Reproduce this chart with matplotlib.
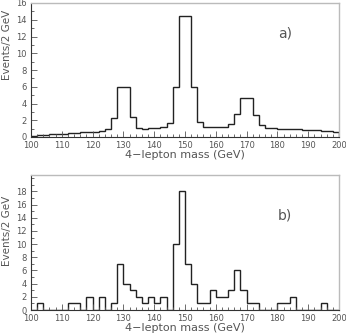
import numpy as np
import matplotlib
matplotlib.use('Agg')
import matplotlib.pyplot as plt
from matplotlib.ticker import MultipleLocator

# 2 GeV bins from 100 to 200 GeV
edges = np.arange(100, 202, 2)

# a) expected distribution
events_a = [0.1, 0.2, 0.25, 0.3, 0.35, 0.4, 0.45, 0.5, 0.55, 0.6,
            0.65, 0.75, 0.95, 2.3, 6.0, 6.0, 2.4, 1.1, 1.0, 1.05,
            1.1, 1.15, 1.7, 6.0, 14.4, 14.4, 6.0, 1.8, 1.2, 1.15,
            1.15, 1.2, 1.5, 2.7, 4.7, 4.7, 2.6, 1.4, 1.1, 1.05,
            1.0, 0.98, 0.95, 0.9, 0.87, 0.83, 0.8, 0.75, 0.7, 0.65]

# b) simulated events
events_b = [0, 1, 0, 0, 0, 0, 1, 1, 0, 2,
            0, 2, 0, 1, 7, 4, 3, 2, 1, 2,
            1, 2, 0, 10, 18, 7, 4, 1, 1, 3,
            2, 2, 3, 6, 3, 1, 1, 0, 0, 0,
            1, 1, 2, 0, 0, 0, 0, 1, 0, 0]

txt = '#555555'
W, H = 346, 336

fig = plt.figure(figsize=(W / 100, H / 100), dpi=100)

def setup(ax, ymax, yticks, tag, tag_xy, label_y):
    ax.set_xlim(100, 200)
    ax.set_ylim(0, ymax)
    ax.set_yticks(yticks)
    ax.xaxis.set_major_locator(MultipleLocator(10))
    ax.xaxis.set_minor_locator(MultipleLocator(2))
    ax.yaxis.set_minor_locator(MultipleLocator(1))
    ax.tick_params(which='both', direction='in', colors=txt, labelsize=6,
                   top=False, right=False, width=0.6)
    ax.tick_params(which='major', length=4, pad=3)
    ax.tick_params(which='minor', length=2.5)
    for s in ['left', 'bottom']:
        ax.spines[s].set_color('#333333')
        ax.spines[s].set_linewidth(0.8)
    for s in ['top', 'right']:
        ax.spines[s].set_color('#bbbbbb')
        ax.spines[s].set_linewidth(1.0)
    ax.set_xlabel('4\u2212lepton mass (GeV)', fontsize=8, color=txt, labelpad=0)
    ax.set_ylabel('Events/2 GeV', fontsize=7.5, color=txt)
    ax.yaxis.set_label_coords(-0.062, label_y)
    ax.text(tag_xy[0], tag_xy[1], tag, fontsize=10, color=txt,
            ha='center', va='center')

ax1 = fig.add_axes([31 / W, 1 - 137 / H, 308 / W, 134 / H])
ax1.stairs(events_a, edges, baseline=0, color='#222222', lw=1.0)
setup(ax1, 16, range(0, 17, 2), 'a)', (182.5, 12.4), 0.69)

ax2 = fig.add_axes([31 / W, 1 - 310 / H, 308 / W, 135 / H])
ax2.stairs(events_b, edges, baseline=0, color='#222222', lw=1.0)
setup(ax2, 20.5, range(0, 19, 2), 'b)', (182.5, 14.4), 0.585)

fig.savefig('out.png', dpi=100)
